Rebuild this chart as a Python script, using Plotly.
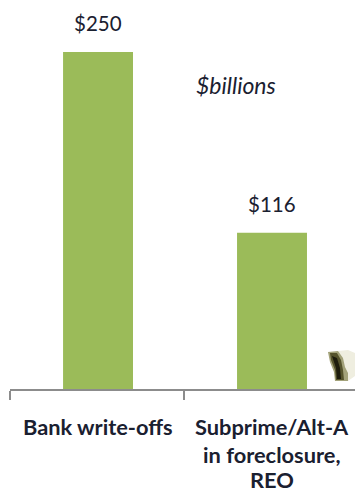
import plotly.graph_objects as go

categories = ["Bank write-offs", "Subprime/Alt-A<br>in foreclosure,<br>REO"]
values = [250, 116]
value_labels = ["$250", "$116"]
unit_label = "$billions"

W, H = 355, 495
LEFT, BASE, TOP = 10, 389, 52
PLOT_H = BASE - TOP
INK = "#1a2030"
AXIS = "#8c8c8c"
LINE_CENTRES = [427, 454, 480]


def paper(x, y):
    """Convert page pixels to paper coordinates."""
    return (x - LEFT) / (W - LEFT), (BASE - y) / PLOT_H


fig = go.Figure(go.Bar(
    x=[0, 1], y=values, width=0.402,
    marker=dict(color="#9BBB59", line=dict(width=0)),
    hoverinfo="skip",
))

fig.update_layout(
    width=W, height=H, autosize=False,
    margin=dict(l=LEFT, r=0, t=TOP, b=H - BASE),
    paper_bgcolor="white", plot_bgcolor="white",
    showlegend=False,
    xaxis=dict(
        range=[-0.506, 1.477], tickmode="array", tickvals=[-0.506, 0.494],
        ticktext=["", ""], ticks="outside", ticklen=9, tickwidth=2, tickcolor=AXIS,
        showline=True, linecolor=AXIS, linewidth=2, showgrid=False, zeroline=False,
        fixedrange=True,
    ),
    yaxis=dict(range=[0, 250], visible=False, fixedrange=True),
)

# Value labels sit well above their bars
for i, (value, label) in enumerate(zip(values, value_labels)):
    fig.add_annotation(
        x=i, xref="x", y=value, yref="y", yanchor="middle", yshift=29,
        text=label, showarrow=False,
        font=dict(family="Lato", size=20.5, color=INK),
    )

# Category names below the axis, one annotation per line for exact leading
for i, label in enumerate(categories):
    for line, centre in zip(label.split("<br>"), LINE_CENTRES):
        fig.add_annotation(
            x=i, xref="x", y=paper(0, centre)[1], yref="paper", yanchor="middle",
            text=f"<b>{line}</b>", showarrow=False, align="center", borderpad=0,
            font=dict(family="Lato", size=21.8, color=INK),
        )

ux, uy = paper(236, 85)
fig.add_annotation(
    x=ux, xref="paper", y=uy, yref="paper", xanchor="center", yanchor="middle",
    text=f"<i>{unit_label}</i>", showarrow=False,
    font=dict(family="Lato", size=23, color=INK),
)

# Small mascot in the lower right corner, painted back to front
mascot = [
    ([(338, 351), (348, 350), (355, 353), (355, 376), (348, 381), (343, 381), (340, 360)], "#efeee0"),
    ([(328, 352), (338, 351), (343, 358), (345, 367), (348, 373), (348, 381), (335, 381), (334, 372), (330, 362)], "#a3a27a"),
    ([(330, 353), (337, 353), (341, 360), (343, 370), (344, 380), (336, 380), (335, 370), (331, 360)], "#55532c"),
    ([(332, 356), (337, 358), (340, 368), (341, 379), (337, 379), (336, 368)], "#1d1c0c"),
]
for pts, colour in mascot:
    coords = [paper(*p) for p in pts]
    path = "M " + " L ".join(f"{a:.4f} {b:.4f}" for a, b in coords) + " Z"
    fig.add_shape(type="path", xref="paper", yref="paper", path=path,
                  fillcolor=colour, line=dict(width=0), layer="above")

fig.write_html("out.html")
